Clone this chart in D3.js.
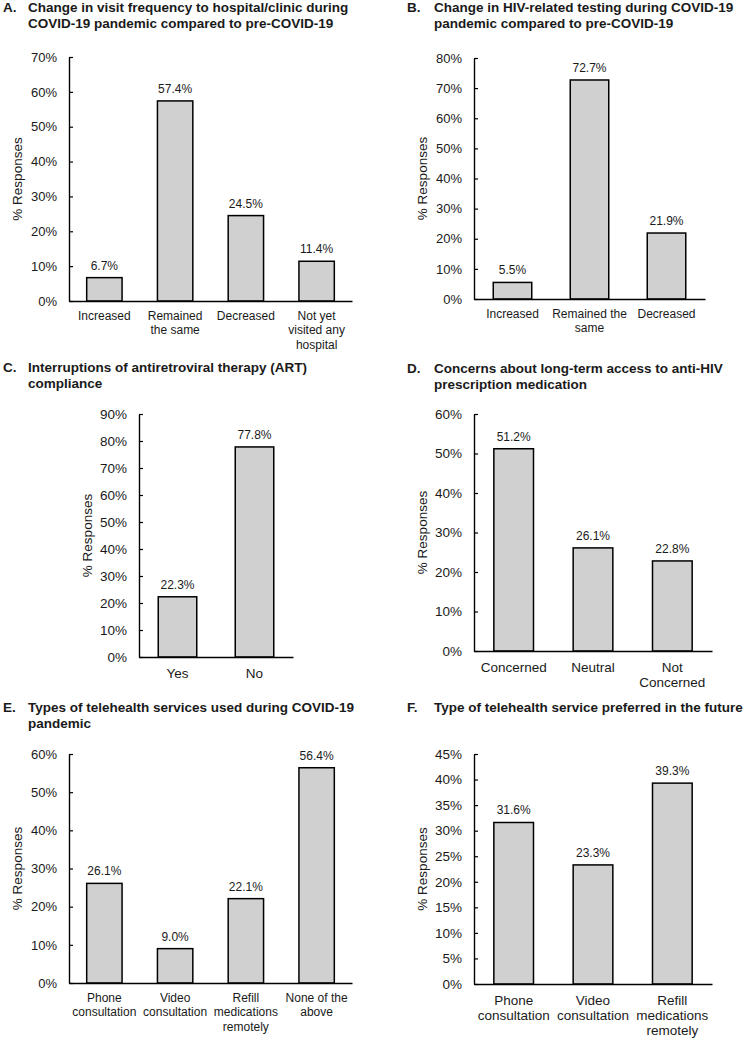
<!DOCTYPE html>
<html>
<head>
<meta charset="utf-8">
<script src="https://cdn.jsdelivr.net/npm/d3@7"></script>
<style>
  html, body { margin: 0; padding: 0; background: #fff; }
  svg text { font-family: "Liberation Sans", Arial, sans-serif; fill: #1a1a1a; }
</style>
</head>
<body>
<svg id="chart" width="750" height="1040"></svg>
<script>
// ---- Data ----
const titleA = ["Change in visit frequency to hospital/clinic during", "COVID-19 pandemic compared to pre-COVID-19"];
const catsA = ["Increased", "Remained\nthe same", "Decreased", "Not yet\nvisited any\nhospital"];
const valsA = [6.7, 57.4, 24.5, 11.4];
const ticksA = [0, 10, 20, 30, 40, 50, 60, 70];

const titleB = ["Change in HIV-related testing during COVID-19", "pandemic compared to pre-COVID-19"];
const catsB = ["Increased", "Remained the\nsame", "Decreased"];
const valsB = [5.5, 72.7, 21.9];
const ticksB = [0, 10, 20, 30, 40, 50, 60, 70, 80];

const titleC = ["Interruptions of antiretroviral therapy (ART)", "compliance"];
const catsC = ["Yes", "No"];
const valsC = [22.3, 77.8];
const ticksC = [0, 10, 20, 30, 40, 50, 60, 70, 80, 90];

const titleD = ["Concerns about long-term access to anti-HIV", "prescription medication"];
const catsD = ["Concerned", "Neutral", "Not\nConcerned"];
const valsD = [51.2, 26.1, 22.8];
const ticksD = [0, 10, 20, 30, 40, 50, 60];

const titleE = ["Types of telehealth services used during COVID-19", "pandemic"];
const catsE = ["Phone\nconsultation", "Video\nconsultation", "Refill\nmedications\nremotely", "None of the\nabove"];
const valsE = [26.1, 9.0, 22.1, 56.4];
const ticksE = [0, 10, 20, 30, 40, 50, 60];

const titleF = ["Type of telehealth service preferred in the future"];
const catsF = ["Phone\nconsultation", "Video\nconsultation", "Refill\nmedications\nremotely"];
const valsF = [31.6, 23.3, 39.3];
const ticksF = [0, 5, 10, 15, 20, 25, 30, 35, 40, 45];

const letters = ["A.", "B.", "C.", "D.", "E.", "F."];
const yLabel = "% Responses";

// ---- Layout ----
const panels = [
  {letter: letters[0], title: titleA, cats: catsA, vals: valsA, ticks: ticksA,
   lx: 3, tx: 28, ty: 12, x0: 69, x1: 352, yTop: 57, yBot: 301, fs: 12, tfs: 13},
  {letter: letters[1], title: titleB, cats: catsB, vals: valsB, ticks: ticksB,
   lx: 407, tx: 434, ty: 12, x0: 474, x1: 705, yTop: 58, yBot: 299, fs: 12, tfs: 13},
  {letter: letters[2], title: titleC, cats: catsC, vals: valsC, ticks: ticksC,
   lx: 3, tx: 28, ty: 372, x0: 139, x1: 293, yTop: 414, yBot: 657, fs: 13.5, tfs: 13.5},
  {letter: letters[3], title: titleD, cats: catsD, vals: valsD, ticks: ticksD,
   lx: 407, tx: 434, ty: 373, x0: 474, x1: 712, yTop: 414, yBot: 651, fs: 13.5, tfs: 13.5},
  {letter: letters[4], title: titleE, cats: catsE, vals: valsE, ticks: ticksE,
   lx: 3, tx: 28, ty: 712, x0: 69, x1: 352, yTop: 754, yBot: 983, fs: 12, tfs: 13},
  {letter: letters[5], title: titleF, cats: catsF, vals: valsF, ticks: ticksF,
   lx: 407, tx: 434, ty: 712, x0: 474, x1: 712, yTop: 754, yBot: 984, fs: 13.5, tfs: 13.5}
];

const svg = d3.select("#chart");

panels.forEach(p => {
  const g = svg.append("g");

  // Title
  g.append("text").attr("x", p.lx).attr("y", p.ty)
    .attr("font-size", 13.5).attr("font-weight", "bold").text(p.letter);
  p.title.forEach((line, i) => {
    g.append("text").attr("x", p.tx).attr("y", p.ty + i * 15.5)
      .attr("font-size", 13.5).attr("font-weight", "bold").text(line);
  });

  const x = d3.scaleBand().domain(p.cats).range([p.x0, p.x1])
    .paddingInner(0.5).paddingOuter(0.25);
  const y = d3.scaleLinear().domain([0, d3.max(p.ticks)]).range([p.yBot, p.yTop]);

  // Bars
  g.selectAll("rect.bar").data(p.vals).enter().append("rect")
    .attr("class", "bar")
    .attr("x", (d, i) => x(p.cats[i]))
    .attr("width", x.bandwidth())
    .attr("y", d => y(d))
    .attr("height", d => y(0) - y(d))
    .attr("fill", "#d0d0d0")
    .attr("stroke", "#000")
    .attr("stroke-width", 1.5);

  // Value labels
  g.selectAll("text.val").data(p.vals).enter().append("text")
    .attr("class", "val")
    .attr("x", (d, i) => x(p.cats[i]) + x.bandwidth() / 2)
    .attr("y", d => y(d) - 8)
    .attr("text-anchor", "middle")
    .attr("font-size", 12)
    .text(d => d.toFixed(1) + "%");

  // Y axis
  const yAxis = d3.axisLeft(y).tickValues(p.ticks)
    .tickFormat(d => d + "%").tickSizeInner(-4).tickSizeOuter(0).tickPadding(12);
  const ay = g.append("g").attr("transform", `translate(${p.x0},0)`).call(yAxis);
  ay.select(".domain").attr("stroke", "#000").attr("stroke-width", 1.4);
  ay.selectAll(".tick line").attr("stroke", "#000").attr("stroke-width", 1.2);
  ay.selectAll(".tick text").attr("font-size", p.tfs)
    .attr("font-family", "Liberation Sans, Arial, sans-serif").attr("fill", "#1a1a1a");

  // X axis
  const xAxis = d3.axisBottom(x).tickSize(0).tickFormat("");
  const ax = g.append("g").attr("transform", `translate(0,${p.yBot})`).call(xAxis);
  ax.select(".domain").attr("stroke", "#000").attr("stroke-width", 1.4);

  // Category labels (multi-line)
  p.cats.forEach(c => {
    const t = g.append("text")
      .attr("x", x(c) + x.bandwidth() / 2)
      .attr("y", p.yBot + (p.fs > 12 ? 21 : 19))
      .attr("text-anchor", "middle")
      .attr("font-size", p.fs);
    c.split("\n").forEach((line, i) => {
      t.append("tspan").attr("x", x(c) + x.bandwidth() / 2)
        .attr("dy", i === 0 ? 0 : (p.fs > 12 ? 15 : 14.3)).text(line);
    });
  });

  // Y axis label
  g.append("text")
    .attr("transform", `translate(${p.x0 - 52},${(p.yTop + p.yBot) / 2}) rotate(-90)`)
    .attr("text-anchor", "middle")
    .attr("dominant-baseline", "central")
    .attr("font-size", 13.5)
    .text(yLabel);
});
</script>
</body>
</html>
